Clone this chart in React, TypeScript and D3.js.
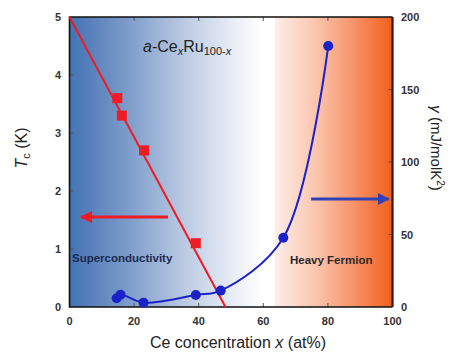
import React, {useEffect, useRef} from "react";
import * as d3 from "d3";

// Tc data (left axis, K)
const tcX = [14.8, 16.2, 23.1, 39.1];
const tcY = [3.6, 3.3, 2.7, 1.1];
const tcFitX = [0, 48.3];
const tcFitY = [5, 0];

// gamma data (right axis, mJ/molK^2)
const gammaX = [14.6, 15.8, 22.9, 39.1, 46.8, 66.2, 80.1];
const gammaY = [6, 8.5, 3, 8.3, 11.3, 47.8, 180];

const xTicks = [0, 20, 40, 60, 80, 100];
const tcTicks = [0, 1, 2, 3, 4, 5];
const gammaTicks = [0, 50, 100, 150, 200];

const W = 455;
const H = 354;
const M = {left: 69.5, right: 392.5, top: 17, bottom: 307};
const FONT = "Liberation Sans, Arial, sans-serif";

export default function App() {
  const ref = useRef<SVGSVGElement>(null);

  useEffect(() => {
    const svg = d3.select(ref.current);
    svg.selectAll("*").remove();

    const x = d3.scaleLinear().domain([0, 100]).range([M.left, M.right]);
    const yT = d3.scaleLinear().domain([0, 5]).range([M.bottom, M.top]);
    const yG = d3.scaleLinear().domain([0, 200]).range([M.bottom, M.top]);

    const defs = svg.append("defs");
    const blue = defs.append("linearGradient").attr("id", "bg-blue");
    [[0, "#4372b3"], [0.3, "#7d9ccb"], [0.6, "#bccbe3"], [0.85, "#e9eef6"], [1, "#ffffff"]]
      .forEach(([o, c]) => blue.append("stop").attr("offset", o).attr("stop-color", c));
    const orange = defs.append("linearGradient").attr("id", "bg-orange");
    [[0, "#fdeee8"], [0.35, "#fbc5ae"], [0.7, "#f68e62"], [1, "#f0601c"]]
      .forEach(([o, c]) => orange.append("stop").attr("offset", o).attr("stop-color", c));
    defs.append("marker").attr("id", "ah-red").attr("viewBox", "0 0 10 10")
      .attr("refX", 9).attr("refY", 5).attr("markerWidth", 4).attr("markerHeight", 4)
      .attr("orient", "auto").attr("markerUnits", "strokeWidth")
      .append("path").attr("d", "M0,0L10,5L0,10z").attr("fill", "#ee1c24");
    defs.append("marker").attr("id", "ah-blue").attr("viewBox", "0 0 10 10")
      .attr("refX", 9).attr("refY", 5).attr("markerWidth", 4).attr("markerHeight", 4)
      .attr("orient", "auto").attr("markerUnits", "strokeWidth")
      .append("path").attr("d", "M0,0L10,5L0,10z").attr("fill", "#3340b8");

    // background regions
    svg.append("rect").attr("x", x(0)).attr("y", M.top)
      .attr("width", x(60) - x(0)).attr("height", M.bottom - M.top)
      .attr("fill", "url(#bg-blue)");
    svg.append("rect").attr("x", x(60)).attr("y", M.top)
      .attr("width", x(63.5) - x(60)).attr("height", M.bottom - M.top)
      .attr("fill", "#ffffff");
    svg.append("rect").attr("x", x(63.5)).attr("y", M.top)
      .attr("width", x(100) - x(63.5)).attr("height", M.bottom - M.top)
      .attr("fill", "url(#bg-orange)");

    // ticks (inward)
    const tk = svg.append("g").attr("stroke", "#555").attr("stroke-width", 1);
    xTicks.slice(1, -1).forEach(v => {
      tk.append("line").attr("x1", x(v)).attr("x2", x(v)).attr("y1", M.bottom).attr("y2", M.bottom - 4);
      tk.append("line").attr("x1", x(v)).attr("x2", x(v)).attr("y1", M.top).attr("y2", M.top + 4);
    });
    tcTicks.slice(1, -1).forEach(v =>
      tk.append("line").attr("x1", M.left).attr("x2", M.left + 4).attr("y1", yT(v)).attr("y2", yT(v)));
    gammaTicks.slice(1, -1).forEach(v =>
      tk.append("line").attr("x1", M.right).attr("x2", M.right - 4).attr("y1", yG(v)).attr("y2", yG(v)));

    // frame
    svg.append("path")
      .attr("d", `M${M.right},${M.top}H${M.left}V${M.bottom}H${M.right}`)
      .attr("fill", "none").attr("stroke", "#111").attr("stroke-width", 1.6);
    svg.append("line").attr("x1", M.right).attr("x2", M.right).attr("y1", M.top).attr("y2", M.bottom)
      .attr("stroke", "#3a1608").attr("stroke-width", 2.2);

    // tick labels
    const lab = svg.append("g").attr("font-family", FONT).attr("font-size", 11)
      .attr("font-weight", "bold").attr("fill", "#333");
    tcTicks.forEach(v => lab.append("text").attr("x", 61).attr("y", yT(v) + 4)
      .attr("text-anchor", "end").text(v));
    gammaTicks.forEach(v => lab.append("text").attr("x", 401).attr("y", yG(v) + 4)
      .text(v));
    xTicks.forEach(v => lab.append("text").attr("x", x(v)).attr("y", 325)
      .attr("text-anchor", "middle").text(v));

    // Tc line + squares
    const lineT = d3.line<number>().x((d, i) => x(tcFitX[i])).y((d, i) => yT(tcFitY[i]));
    svg.append("path").attr("d", lineT(tcFitX)).attr("fill", "none")
      .attr("stroke", "#ee1c24").attr("stroke-width", 2);
    svg.append("g").selectAll("rect").data(tcX).join("rect")
      .attr("x", (d) => x(d) - 5).attr("y", (d, i) => yT(tcY[i]) - 5)
      .attr("width", 10).attr("height", 10).attr("fill", "#ee1c24");

    // gamma curve + dots
    const lineG = d3.line<number>().x((d, i) => x(gammaX[i])).y((d, i) => yG(gammaY[i]))
      .curve(d3.curveCatmullRom.alpha(0.5));
    svg.append("path").attr("d", lineG(gammaX)).attr("fill", "none")
      .attr("stroke", "#1a22c8").attr("stroke-width", 2);
    svg.append("g").selectAll("circle").data(gammaX).join("circle")
      .attr("cx", (d) => x(d)).attr("cy", (d, i) => yG(gammaY[i])).attr("r", 5)
      .attr("fill", "#1a22c8");

    // arrows
    svg.append("line").attr("x1", x(30.5)).attr("x2", x(3.6)).attr("y1", yT(1.55)).attr("y2", yT(1.55))
      .attr("stroke", "#ee1c24").attr("stroke-width", 3).attr("marker-end", "url(#ah-red)");
    svg.append("line").attr("x1", x(74.8)).attr("x2", x(98.8)).attr("y1", yG(74.5)).attr("y2", yG(74.5))
      .attr("stroke", "#3340b8").attr("stroke-width", 3).attr("marker-end", "url(#ah-blue)");

    // region labels
    svg.append("text").attr("x", 72).attr("y", 262).attr("font-family", FONT)
      .attr("font-size", 11.5).attr("font-weight", "bold").attr("fill", "#1b2a4e")
      .text("Superconductivity");
    svg.append("text").attr("x", 290).attr("y", 264).attr("font-family", FONT)
      .attr("font-size", 11.5).attr("font-weight", "bold").attr("fill", "#2a2a2a")
      .text("Heavy Fermion");

    // title
    const t = svg.append("text").attr("x", 143).attr("y", 52).attr("font-family", FONT)
      .attr("font-size", 16).attr("fill", "#222");
    t.append("tspan").attr("font-style", "italic").text("a");
    t.append("tspan").text("-Ce");
    t.append("tspan").attr("font-style", "italic").attr("font-size", 11).attr("dy", 3).text("x");
    t.append("tspan").attr("dy", -3).text("Ru");
    t.append("tspan").attr("font-size", 11).attr("dy", 3).text("100-");
    t.append("tspan").attr("font-size", 11).attr("font-style", "italic").text("x");

    // axis titles
    const yl = svg.append("text").attr("transform", `translate(27,148) rotate(-90)`)
      .attr("text-anchor", "middle").attr("font-family", FONT).attr("font-size", 16).attr("fill", "#222");
    yl.append("tspan").attr("font-style", "italic").text("T");
    yl.append("tspan").attr("font-size", 11).attr("dy", 3).text("c");
    yl.append("tspan").attr("dy", -3).text(" (K)");

    const yr = svg.append("text").attr("transform", `translate(431,148) rotate(90)`)
      .attr("text-anchor", "middle").attr("font-family", FONT).attr("font-size", 15).attr("fill", "#222");
    yr.append("tspan").attr("font-style", "italic").text("γ");
    yr.append("tspan").text(" (mJ/molK");
    yr.append("tspan").attr("font-size", 10).attr("dy", -6).text("2");
    yr.append("tspan").attr("dy", 6).text(")");

    const xl = svg.append("text").attr("x", 238).attr("y", 348).attr("text-anchor", "middle")
      .attr("font-family", FONT).attr("font-size", 16).attr("fill", "#222");
    xl.append("tspan").text("Ce concentration ");
    xl.append("tspan").attr("font-style", "italic").text("x");
    xl.append("tspan").text(" (at%)");
  }, []);

  return (
    <svg ref={ref} width={W} height={H}
      style={{position: "absolute", left: 0, top: 0, background: "#fff"}} />
  );
}
